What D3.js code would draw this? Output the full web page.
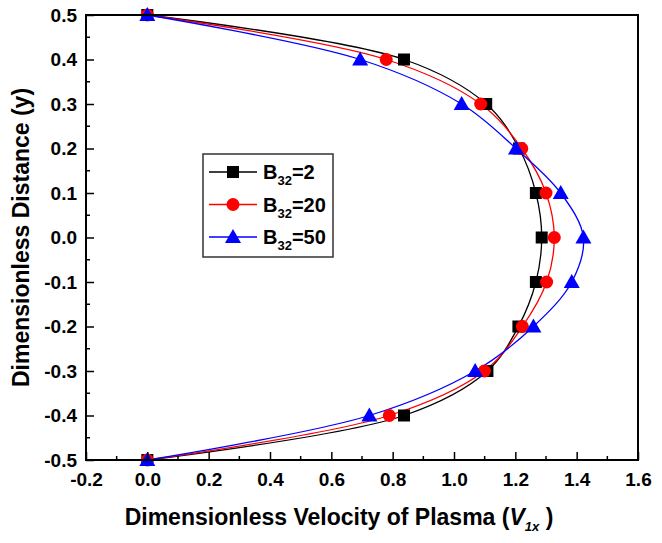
<!DOCTYPE html>
<html><head><meta charset="utf-8">
<script src="https://cdn.jsdelivr.net/npm/d3@7"></script>
<style>body{margin:0;background:#fff}svg{display:block}text{font-family:"Liberation Sans",Arial,sans-serif;font-weight:bold}</style>
</head><body><svg id="c" width="662" height="543"></svg>
<script>
const yVals = [0.5, 0.4, 0.3, 0.2, 0.1, 0.0, -0.1, -0.2, -0.3, -0.4, -0.5];
const vB2  = [0, 0.837, 1.105, 1.212, 1.267, 1.286, 1.267, 1.210, 1.109, 0.837, 0];
const vB20 = [0, 0.779, 1.087, 1.221, 1.300, 1.327, 1.302, 1.223, 1.099, 0.789, 0];
const vB50 = [0, 0.694, 1.025, 1.202, 1.348, 1.422, 1.384, 1.259, 1.069, 0.724, 0];
const seriesNames = ["2", "20", "50"];
const xTicks = [-0.2, 0.0, 0.2, 0.4, 0.6, 0.8, 1.0, 1.2, 1.4, 1.6];
const yTicks = [-0.5, -0.4, -0.3, -0.2, -0.1, 0.0, 0.1, 0.2, 0.3, 0.4, 0.5];

const svg = d3.select("#c");
const L = 86, R = 638, T = 15, B = 460;
const x = d3.scaleLinear().domain([-0.2, 1.6]).range([L, R]);
const y = d3.scaleLinear().domain([-0.5, 0.5]).range([B, T]);
const fmt = d => d.toFixed(1);

const series = [
  {name: seriesNames[0], vals: vB2, color: "#000000", shape: "square"},
  {name: seriesNames[1], vals: vB20, color: "#ff0000", shape: "circle"},
  {name: seriesNames[2], vals: vB50, color: "#0000ff", shape: "triangle"}
];

function marker(g, shape, color, cx, cy) {
  if (shape === "square") g.append("rect").attr("x", cx-6).attr("y", cy-6).attr("width", 12).attr("height", 12).attr("fill", color);
  else if (shape === "circle") g.append("circle").attr("cx", cx).attr("cy", cy).attr("r", 6.5).attr("fill", color);
  else g.append("path").attr("d", `M${cx},${cy-8}L${cx+8},${cy+6}L${cx-8},${cy+6}Z`).attr("fill", color);
}

const line = d3.line().x(d => x(d[0])).y(d => y(d[1])).curve(d3.curveCatmullRom.alpha(0.5));
const plot = svg.append("g");
series.forEach(s => {
  const pts = s.vals.map((v, i) => [v, yVals[i]]);
  plot.append("path").attr("d", line(pts)).attr("fill", "none").attr("stroke", s.color).attr("stroke-width", 1.3);
});
series.forEach(s => {
  s.vals.forEach((v, i) => marker(plot, s.shape, s.color, x(v), y(yVals[i])));
});

// axes
const xAxis = d3.axisBottom(x).tickValues(xTicks).tickFormat(fmt).tickSizeInner(-8).tickSizeOuter(0).tickPadding(13);
const gx = svg.append("g").attr("transform", `translate(0,${B})`).call(xAxis);
gx.select(".domain").remove();
gx.selectAll(".tick line").attr("stroke-width", 1.5);
gx.selectAll("text").style("font-size", "19px").attr("fill", "#000");
const xMinor = d3.range(-0.1, 1.6, 0.2);
svg.append("g").selectAll("line").data(xMinor).join("line")
  .attr("x1", d => x(d)).attr("x2", d => x(d)).attr("y1", B).attr("y2", B-4).attr("stroke", "#000").attr("stroke-width", 1.5);

const yAxis = d3.axisLeft(y).tickValues(yTicks).tickFormat(fmt).tickSizeInner(-8).tickSizeOuter(0).tickPadding(9);
const gy = svg.append("g").attr("transform", `translate(${L},0)`).call(yAxis);
gy.select(".domain").remove();
gy.selectAll(".tick line").attr("stroke-width", 1.5);
gy.selectAll("text").style("font-size", "19px").attr("fill", "#000");
const yMinor = d3.range(-0.45, 0.5, 0.1);
svg.append("g").selectAll("line").data(yMinor).join("line")
  .attr("y1", d => y(d)).attr("y2", d => y(d)).attr("x1", L).attr("x2", L+4).attr("stroke", "#000").attr("stroke-width", 1.5);

svg.append("rect").attr("x", L).attr("y", T).attr("width", R-L).attr("height", B-T)
  .attr("fill", "none").attr("stroke", "#000").attr("stroke-width", 2);

// titles
const xt = svg.append("text").attr("x", 339).attr("y", 525).attr("text-anchor", "middle").style("font-size", "23px");
xt.append("tspan").text("Dimensionless Velocity of Plasma (");
xt.append("tspan").style("font-style", "italic").text("V");
xt.append("tspan").style("font-style", "italic").style("font-size", "13px").attr("dy", 6).text("1x");
xt.append("tspan").attr("dy", -6).text(" )");

svg.append("text").attr("transform", `translate(29,${(T+B)/2}) rotate(-90)`).attr("text-anchor", "middle")
  .style("font-size", "23px").text("Dimensionless Distance (y)");

// legend
const lg = svg.append("g");
lg.append("rect").attr("x", 203).attr("y", 154).attr("width", 130).attr("height", 103)
  .attr("fill", "#fff").attr("stroke", "#333").attr("stroke-width", 1.5);
series.forEach((s, i) => {
  const cy = 172 + i * 32.5;
  lg.append("line").attr("x1", 209).attr("x2", 257).attr("y1", cy).attr("y2", cy).attr("stroke", s.color).attr("stroke-width", 1.3);
  marker(lg, s.shape, s.color, 233, cy);
  const t = lg.append("text").attr("x", 263).attr("y", cy + 7).style("font-size", "20px");
  t.append("tspan").text("B");
  t.append("tspan").style("font-size", "13px").attr("dy", 6).text("32");
  t.append("tspan").attr("dy", -6).text("=" + s.name);
});
</script></body></html>
